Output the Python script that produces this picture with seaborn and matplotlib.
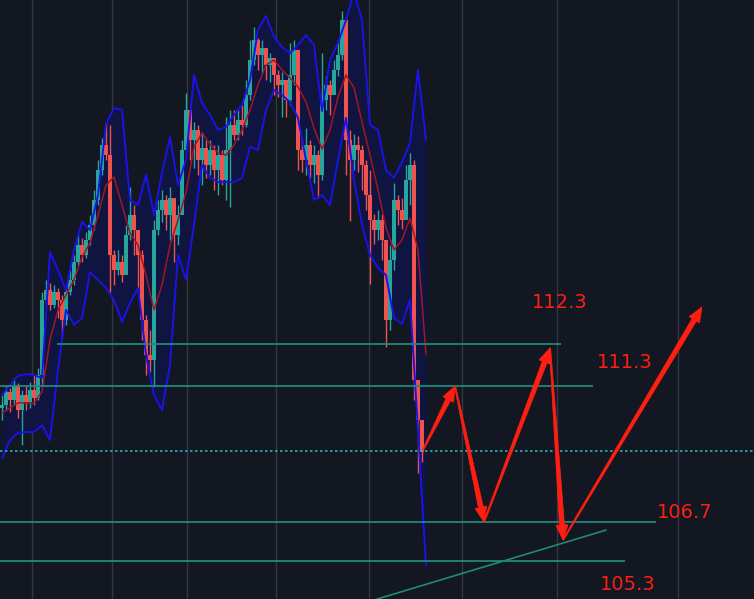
import numpy as np
import pandas as pd
import matplotlib
matplotlib.use('Agg')
import matplotlib.pyplot as plt
import seaborn as sns
from matplotlib.patches import Polygon
from matplotlib.transforms import IdentityTransform

# candle data (one candle per bar index)
first_open = 110.40
close = [110.50, 110.93, 110.67, 111.17, 110.33, 110.83, 110.60, 111.00, 110.73, 111.50,
         114.00, 114.33, 113.83, 114.27, 114.00, 113.33, 114.27, 114.67, 115.27, 115.83,
         115.50, 116.00, 116.50, 117.33, 118.33, 119.17, 118.83, 115.50, 115.00, 115.27,
         114.83, 116.17, 116.83, 116.33, 115.50, 113.33, 112.17, 112.00, 116.33, 117.00,
         117.33, 116.83, 117.40, 116.17, 116.83, 119.00, 120.33, 119.33, 119.67, 118.67,
         119.07, 118.50, 119.00, 118.33, 118.83, 118.00, 119.00, 119.83, 119.50, 120.00,
         119.83, 120.83, 122.00, 122.67, 122.17, 122.40, 121.83, 122.07, 121.50, 121.17,
         121.33, 120.67, 121.50, 122.33, 119.00, 118.67, 119.17, 118.50, 118.83, 118.17,
         120.67, 121.17, 120.83, 121.67, 122.17, 123.33, 119.33, 118.67, 119.17, 119.00,
         118.50, 117.50, 116.67, 116.33, 116.67, 116.00, 113.33, 115.33, 117.33, 117.00,
         116.67, 118.00, 118.50, 111.33, 110.00, 108.93]
high = [110.83, 111.17, 111.07, 111.40, 111.23, 111.00, 111.17, 111.27, 111.50, 111.73,
        114.27, 114.67, 114.57, 114.50, 114.40, 114.17, 114.43, 115.00, 115.50, 116.17,
        116.07, 116.27, 116.83, 117.67, 118.67, 119.40, 119.93, 119.83, 115.67, 115.67,
        115.50, 116.50, 117.77, 117.17, 116.33, 115.67, 113.50, 113.00, 116.67, 117.33,
        117.67, 117.50, 117.77, 116.83, 117.17, 119.33, 120.90, 120.33, 119.93, 119.83,
        119.60, 119.33, 119.33, 119.17, 119.17, 119.00, 120.10, 120.33, 120.33, 120.33,
        120.50, 121.33, 122.67, 123.10, 122.73, 122.67, 122.27, 122.23, 122.00, 121.67,
        121.60, 121.33, 122.57, 122.67, 121.67, 119.33, 119.73, 119.33, 119.17, 119.00,
        122.23, 121.47, 121.33, 122.00, 122.67, 123.63, 123.40, 119.67, 119.53, 119.47,
        119.17, 118.67, 118.33, 116.87, 117.00, 116.87, 116.00, 115.83, 117.90, 117.50,
        117.40, 118.50, 118.90, 118.67, 111.00, 109.67]
low = [110.00, 110.33, 110.27, 110.50, 110.07, 109.17, 110.33, 110.40, 110.50, 110.67,
       111.17, 113.83, 113.67, 113.73, 113.40, 112.73, 113.17, 114.17, 114.50, 115.17,
       115.27, 115.40, 115.83, 116.33, 117.17, 118.17, 118.67, 114.27, 114.50, 114.83,
       114.60, 115.27, 116.00, 115.50, 114.33, 112.67, 111.50, 111.60, 111.10, 116.17,
       116.60, 116.33, 116.00, 115.27, 115.83, 117.00, 119.00, 118.67, 118.40, 118.17,
       117.83, 118.07, 118.17, 117.67, 117.50, 117.83, 117.33, 117.10, 119.33, 119.33,
       119.50, 119.77, 120.67, 121.83, 121.67, 121.57, 121.33, 121.27, 120.83, 120.77,
       120.10, 120.10, 120.50, 121.17, 118.33, 118.27, 118.17, 118.07, 117.90, 117.40,
       118.00, 120.33, 120.17, 121.00, 121.47, 122.00, 118.17, 116.63, 118.33, 118.27,
       117.67, 117.00, 114.53, 115.87, 116.00, 115.33, 112.43, 113.00, 115.00, 116.50,
       116.37, 117.00, 117.17, 110.67, 108.23, 108.60]

# bands, read every second bar
band_upper = [110.83, 111.17, 111.47, 111.53, 111.50, 111.40, 115.60, 115.00, 114.33, 115.67,
              116.60, 116.33, 117.50, 119.87, 120.40, 120.33, 117.33, 117.17, 118.17, 116.83,
              118.23, 119.43, 117.83, 118.67, 121.50, 120.57, 120.17, 119.67, 119.77, 120.17,
              120.50, 121.33, 123.00, 123.47, 122.77, 122.43, 122.23, 122.50, 122.83, 122.50,
              120.30, 122.00, 122.57, 123.33, 124.27, 123.33, 119.83, 119.67, 118.33, 118.07,
              118.60, 119.23, 121.67, 119.33]
band_mid = [110.23, 110.40, 110.57, 110.57, 110.57, 110.93, 112.67, 113.67, 114.17, 114.67,
            115.43, 115.90, 116.83, 117.83, 118.10, 117.17, 116.23, 115.83, 114.83, 113.67,
            114.50, 115.83, 116.67, 117.57, 119.10, 119.57, 119.20, 118.90, 118.83, 119.17,
            119.67, 120.33, 121.17, 121.83, 122.00, 121.67, 121.40, 121.10, 120.60, 119.73,
            119.03, 119.67, 120.77, 121.50, 121.07, 119.93, 118.83, 117.67, 116.40, 115.67,
            116.00, 116.73, 115.67, 112.17]
band_lower = [108.73, 109.33, 109.57, 109.60, 109.60, 109.83, 109.33, 111.67, 113.67, 113.17,
              113.40, 114.93, 114.67, 114.40, 114.00, 113.27, 113.90, 114.40, 112.17, 110.83,
              110.33, 111.83, 115.50, 114.67, 116.50, 118.50, 118.07, 117.93, 117.93, 117.93,
              118.07, 119.10, 119.00, 120.33, 121.00, 120.83, 120.60, 120.07, 118.67, 117.33,
              117.50, 117.17, 118.67, 120.07, 118.00, 116.50, 115.50, 115.07, 114.83, 113.40,
              113.20, 114.00, 109.67, 105.17]

# time ticks (bar index)
grid_x = [7.5, 27.5, 46.25, 68.5, 91.75, 115, 138.75, 169]

# drawn levels
level_price = [112.53, 111.13, 106.60, 105.30]
level_from = [13.75, -0.5, -0.5, -0.5]
level_to = [139.75, 147.75, 163.5, 155.75]
dotted_price = 108.97
trend_x = [93.75, 151.0]
trend_y = [104.03, 106.33]

# projected path
path_x = [105.25, 113.25, 120.5, 137.0, 140.25, 175.0]
path_y = [109.00, 111.13, 106.60, 112.40, 106.00, 113.77]

labels = ['112.3', '111.3', '106.7', '105.3']
label_x = [132.5, 148.75, 163.75, 149.5]
label_y = [113.93, 111.93, 106.90, 104.50]

BG = '#131722'
RED = '#ff1f12'

sns.set_theme(style='darkgrid', rc={'axes.facecolor': BG, 'figure.facecolor': BG,
                                    'grid.color': '#323645', 'grid.linewidth': 1.0})
plt.rcParams['font.family'] = ['DejaVu Sans']

fig = plt.figure(figsize=(7.54, 5.99), dpi=100)
ax = fig.add_axes([0, 0, 1, 1])
ax.set_xlim(-0.5, 188)
ax.set_ylim(124 - 599 / 30, 124)
ax.set_xticks(grid_x)
ax.set_yticks([])
ax.grid(True, axis='x')
ax.grid(False, axis='y')
ax.set_axisbelow(True)
ax.tick_params(labelbottom=False, length=0)
for s in ax.spines.values():
    s.set_visible(False)

idx = np.arange(len(close))
opens = np.array([first_open] + close[:-1])
closes = np.array(close)
up = closes >= opens
colors = np.where(up, '#26a69a', '#ef5350')

bands = pd.DataFrame({'i': np.arange(0, 2 * len(band_mid), 2),
                      'upper': band_upper, 'mid': band_mid, 'lower': band_lower})
ax.fill_between(bands['i'], bands['lower'], bands['upper'], color='#0f1440', zorder=1, lw=0)

ax.vlines(idx, low, high, colors=colors, lw=1.0, zorder=2)
body = closes - opens
body = np.where(np.abs(body) < 0.05, 0.05, body)
ax.bar(idx, body, bottom=opens, width=0.8, color=colors, lw=0, zorder=3)

sns.lineplot(data=bands, x='i', y='upper', color='#1a12e6', lw=1.4, ax=ax, zorder=4)
sns.lineplot(data=bands, x='i', y='lower', color='#1a12e6', lw=1.4, ax=ax, zorder=4)
sns.lineplot(data=bands, x='i', y='mid', color='#a3161e', lw=1.1, ax=ax, zorder=4)
ax.set_xlabel('')
ax.set_ylabel('')

# levels
ax.hlines(level_price, level_from, level_to, color='#1f8a78', lw=1.3, zorder=5)
ax.axhline(dotted_price, color='#22b5b0', lw=1.2, ls=(0, (1.5, 1.5)), zorder=5)
ax.plot(trend_x, trend_y, color='#1f8a78', lw=1.2, zorder=5)


def taper_arrow(p0, p1, w0=1.2, w1=5.0, head_w=12.0, head_l=15.0):
    (x0, y0), (x1, y1) = ax.transData.transform([p0, p1])
    d = np.array([x1 - x0, y1 - y0])
    u = d / np.hypot(*d)
    n = np.array([-u[1], u[0]])
    tip = np.array([x1, y1])
    start = np.array([x0, y0])
    base = tip - u * head_l
    pts = [start + n * w0 / 2, base + n * w1 / 2, base + n * head_w / 2, tip,
           base - n * head_w / 2, base - n * w1 / 2, start - n * w0 / 2]
    ax.add_patch(Polygon(pts, closed=True, transform=IdentityTransform(),
                         facecolor=RED, edgecolor=RED, lw=0.5, zorder=7))


for k in range(len(path_x) - 1):
    taper_arrow((path_x[k], path_y[k]), (path_x[k + 1], path_y[k + 1]))

for t, x, y in zip(labels, label_x, label_y):
    ax.text(x, y, t, color=RED, fontsize=14, va='center', ha='left', zorder=8)

fig.savefig('out.png', dpi=100, facecolor=BG)
